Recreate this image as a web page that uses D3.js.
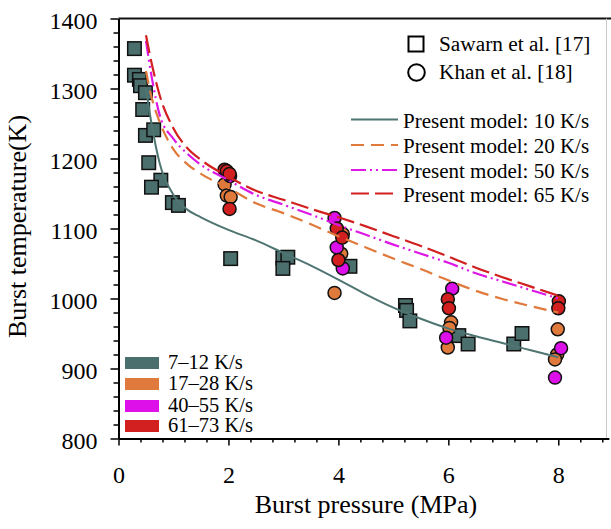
<!DOCTYPE html>
<html><head><meta charset="utf-8">
<script src="https://cdn.jsdelivr.net/npm/d3@7"></script>
<style>
body{margin:0;background:#fff}
svg{display:block}
text{font-family:"Liberation Serif","Times New Roman",serif;fill:#000}
</style>
</head><body>
<svg id="chart" width="611" height="529"></svg>
<script>
// ---------- data ----------
const rateBins = ["7–12 K/s", "17–28 K/s", "40–55 K/s", "61–73 K/s"];
const binColors = ["#4b6f6d", "#e07a3c", "#dd10ea", "#d21f1f"];

// Sawarn et al. [17] (squares, 7–12 K/s)
const sawarnP = [0.29, 0.29, 0.38, 0.40, 0.49, 0.44, 0.49, 0.64, 0.55, 0.77, 0.60, 0.98, 1.09,
                 2.04, 2.99, 3.08, 2.99, 4.21, 5.22, 5.24, 5.30, 6.19, 6.36, 7.19, 7.34];
const sawarnT = [1357, 1319, 1313, 1304, 1294, 1270, 1233, 1241, 1194, 1169, 1159, 1137, 1133,
                 1057, 1058, 1059, 1043, 1046, 990, 983, 968, 947, 935, 935, 950];

// Khan et al. [18] (circles)
const khan17P = [1.93, 1.97, 2.04, 4.08, 4.05, 3.93, 6.05, 6.02, 5.99, 7.99, 7.98, 7.94];
const khan17T = [1163, 1147, 1145, 1092, 1064, 1008, 966, 958, 930, 956, 920, 913];
const khan40P = [2.03, 3.93, 3.97, 4.08, 6.07, 5.96, 8.05, 7.94];
const khan40T = [1175, 1115, 1073, 1043, 1014, 944, 929, 887];
const khan61P = [1.93, 1.97, 2.02, 2.02, 3.97, 4.07, 4.00, 5.99, 6.01, 8.01, 8.00];
const khan61T = [1184, 1182, 1178, 1128, 1100, 1087, 1055, 999, 986, 996, 986];

// Present model curves
const modelP   = [0.5, 0.6, 0.75, 1.0, 1.25, 1.5, 2.0, 2.5, 3.0, 3.5, 4.0, 4.5, 5.0, 5.5, 6.0, 6.5, 7.0, 7.5, 8.0];
const model10T = [1300, 1250, 1193, 1148, 1127, 1116, 1098, 1083, 1065, 1047, 1027, 1006, 987, 971, 957, 946, 936, 926, 916];
const model20T = [1325, 1288, 1252, 1213, 1192, 1178, 1158, 1136, 1122, 1106, 1089, 1073, 1057, 1042, 1026, 1011, 999, 989, 980];
const model50T = [1368, 1318, 1262, 1228, 1207, 1191, 1169, 1148, 1134, 1120, 1105, 1091, 1077, 1064, 1051, 1036, 1024, 1012, 1000];
const model65T = [1376, 1337, 1290, 1243, 1215, 1198, 1174, 1154, 1141, 1128, 1116, 1103, 1089, 1075, 1060, 1044, 1030, 1017, 1004];
const modelLabels = ["Present model: 10 K/s", "Present model: 20 K/s", "Present model: 50 K/s", "Present model: 65 K/s"];

const xMajorTicks = [0, 2, 4, 6, 8];
const yMajorTicks = [800, 900, 1000, 1100, 1200, 1300, 1400];

// ---------- layout ----------
const svg = d3.select("#chart");
const x = d3.scaleLinear().domain([0, 8]).range([118.5, 558.3]);
const y = d3.scaleLinear().domain([800, 1400]).range([438.5, 18.5]);
const xMax = 8.92;

const font = '"Liberation Serif","Times New Roman",serif';

// frame (top + faint right)
svg.append("line").attr("x1", x(0)).attr("x2", 611).attr("y1", y(1400)).attr("y2", y(1400))
  .attr("stroke", "#111").attr("stroke-width", 2);
svg.append("line").attr("x1", 606.5).attr("x2", 606.5).attr("y1", y(1400)).attr("y2", y(800))
  .attr("stroke", "#c8c8c8").attr("stroke-width", 1);

// x axis
const xAxisScale = d3.scaleLinear().domain([0, xMax]).range([x(0), x(xMax)]);
const xMinor = d3.range(0, 8.81, 0.4).filter(v => Math.abs(v / 2 - Math.round(v / 2)) > 1e-6);
const gxMinor = svg.append("g").attr("transform", `translate(0,${y(800)})`)
  .call(d3.axisBottom(xAxisScale).tickValues(xMinor).tickSize(4).tickFormat(""));
const gx = svg.append("g").attr("transform", `translate(0,${y(800)})`)
  .call(d3.axisBottom(xAxisScale).tickValues(xMajorTicks).tickSize(7).tickPadding(20).tickSizeOuter(0));
gxMinor.select(".domain").remove();
gx.select(".domain").attr("stroke-width", 2);
gx.selectAll("text").style("font-family", font).style("font-size", "24px").attr("fill", "#000");

// y axis
const yMinor = d3.range(800, 1401, 20).filter(v => v % 100 !== 0);
const gyMinor = svg.append("g").attr("transform", `translate(${x(0)},0)`)
  .call(d3.axisLeft(y).tickValues(yMinor).tickSize(5).tickFormat(""));
gyMinor.select(".domain").remove();
const gy = svg.append("g").attr("transform", `translate(${x(0)},0)`)
  .call(d3.axisLeft(y).tickValues(yMajorTicks).tickSize(8).tickPadding(13).tickSizeOuter(0).tickFormat(d3.format("d")));
gy.select(".domain").attr("stroke-width", 2);
svg.selectAll(".tick line").attr("stroke-width", 1.5);
gy.selectAll("text").style("font-family", font).style("font-size", "24px").attr("fill", "#000").attr("dy", "0.42em");

// axis titles
svg.append("text").attr("x", 366).attr("y", 513).attr("text-anchor", "middle")
  .style("font-size", "26px").text("Burst pressure (MPa)");
svg.append("text").attr("transform", "translate(26,226.5) rotate(-90)").attr("text-anchor", "middle")
  .style("font-size", "26px").text("Burst temperature(K)");

// ---------- points ----------
const sq = 13.5;
svg.append("g").selectAll("rect").data(d3.zip(sawarnP, sawarnT)).join("rect")
  .attr("x", d => x(d[0]) - sq / 2).attr("y", d => y(d[1]) - sq / 2)
  .attr("width", sq).attr("height", sq)
  .attr("fill", binColors[0]).attr("stroke", "#111").attr("stroke-width", 1.5);

const khanSets = [[khan17P, khan17T, binColors[1]], [khan40P, khan40T, binColors[2]], [khan61P, khan61T, binColors[3]]];
khanSets.forEach(([P, T, c]) => {
  svg.append("g").selectAll("circle").data(d3.zip(P, T)).join("circle")
    .attr("cx", d => x(d[0])).attr("cy", d => y(d[1])).attr("r", 6.5)
    .attr("fill", c).attr("stroke", "#111").attr("stroke-width", 1.5);
});

// ---------- model lines ----------
const models = [
  {T: model10T, color: "#4f7572", dash: null, w: 2},
  {T: model20T, color: "#e07a3c", dash: "13,7", w: 2.2},
  {T: model50T, color: "#dd18e6", dash: "15,4,2,4,2,4", w: 2.2},
  {T: model65T, color: "#d21f1f", dash: "18,6", w: 2.2}
];
const line = d3.line().x(d => x(d[0])).y(d => y(d[1])).curve(d3.curveMonotoneX);
models.forEach(m => {
  svg.append("path").datum(d3.zip(modelP, m.T)).attr("d", line)
    .attr("fill", "none").attr("stroke", m.color).attr("stroke-width", m.w)
    .attr("stroke-dasharray", m.dash);
});

// ---------- legends ----------
// source legend
svg.append("rect").attr("x", 408.5).attr("y", 36.5).attr("width", 15).attr("height", 15)
  .attr("fill", "none").attr("stroke", "#000").attr("stroke-width", 2);
svg.append("text").attr("x", 439).attr("y", 51).style("font-size", "21.3px").text("Sawarn et al. [17]");
svg.append("circle").attr("cx", 416.5).attr("cy", 72.5).attr("r", 8.3)
  .attr("fill", "none").attr("stroke", "#000").attr("stroke-width", 2);
svg.append("text").attr("x", 439).attr("y", 79).style("font-size", "21.3px").text("Khan et al. [18]");

// model legend
const legY = [119.5, 145, 170, 193.5];
models.forEach((m, i) => {
  svg.append("line").attr("x1", 351).attr("x2", 398).attr("y1", legY[i]).attr("y2", legY[i])
    .attr("stroke", m.color).attr("stroke-width", m.w).attr("stroke-dasharray", m.dash);
  svg.append("text").attr("x", 403).attr("y", legY[i] + 8).style("font-size", "21px").text(modelLabels[i]);
});

// rate legend
const rateY = [357, 378, 400, 420];
rateBins.forEach((lab, i) => {
  svg.append("rect").attr("x", 125).attr("y", rateY[i]).attr("width", 34).attr("height", 12)
    .attr("fill", binColors[i]);
  svg.append("text").attr("x", 168).attr("y", rateY[i] + 12).style("font-size", "20.5px").text(lab);
});
</script>
</body></html>
